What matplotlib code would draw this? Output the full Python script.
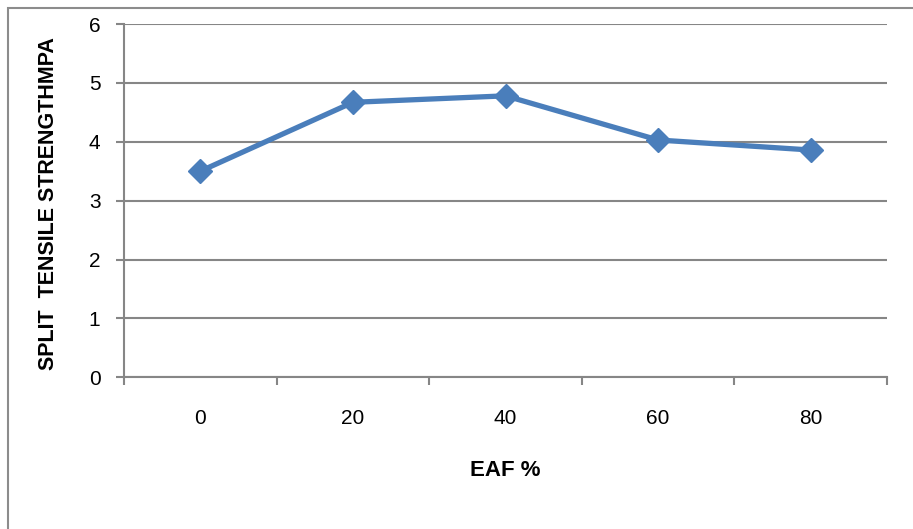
import matplotlib.pyplot as plt
from matplotlib.patches import Rectangle

plt.rcParams["font.family"] = ["Liberation Sans", "DejaVu Sans"]

# data
eaf_labels = ["0", "20", "40", "60", "80"]
split_tensile = [3.5, 4.67, 4.78, 4.03, 3.86]

W, H = 913, 529
fig = plt.figure(figsize=(W / 100, H / 100), dpi=100)
ax = fig.add_axes([124 / W, 1 - 377.3 / H, (887 - 124) / W, (377.3 - 24) / H])

x = list(range(len(eaf_labels)))
ax.plot(x, split_tensile, color="#4A7EBB", lw=3.8, marker="D", ms=12,
        solid_joinstyle="miter")

grid_c = "#868686"
ax.set_ylim(0, 6)
ax.set_yticks(range(0, 7))
ax.yaxis.grid(True, color=grid_c, lw=1.5)
ax.set_axisbelow(True)

ax.set_xlim(-0.5, len(eaf_labels) - 0.5)
ax.set_xticks([i - 0.5 for i in range(len(eaf_labels) + 1)])
ax.set_xticklabels([])
ax.set_xticks(x, minor=True)
ax.set_xticklabels(eaf_labels, minor=True)
ax.tick_params(axis="x", which="major", length=6, width=1.5, color=grid_c, direction="out")
ax.tick_params(axis="x", which="minor", length=0, pad=23, labelsize=15)
ax.tick_params(axis="y", length=6, width=1.5, color=grid_c, direction="out",
               pad=11, labelsize=15)

for s in ("top", "right"):
    ax.spines[s].set_visible(False)
for s in ("left", "bottom"):
    ax.spines[s].set_color(grid_c)
    ax.spines[s].set_linewidth(1.5)

fig.text(48 / W, 1 - 204 / H, "SPLIT  TENSILE STRENGTHMPA", rotation=90,
         ha="center", va="center", fontsize=15.5, fontweight="bold")
fig.text(505 / W, 1 - 470 / H, "EAF %", ha="center", va="center",
         fontsize=16, fontweight="bold")

# outer chart border (cut off at right and bottom)
fig.patches.append(Rectangle((8 / W, -0.05), 1.0, 1 - 8 / H + 0.05,
                             transform=fig.transFigure, fill=False,
                             edgecolor="#8C8C8C", lw=1.5))

fig.savefig("out.png", dpi=100)
